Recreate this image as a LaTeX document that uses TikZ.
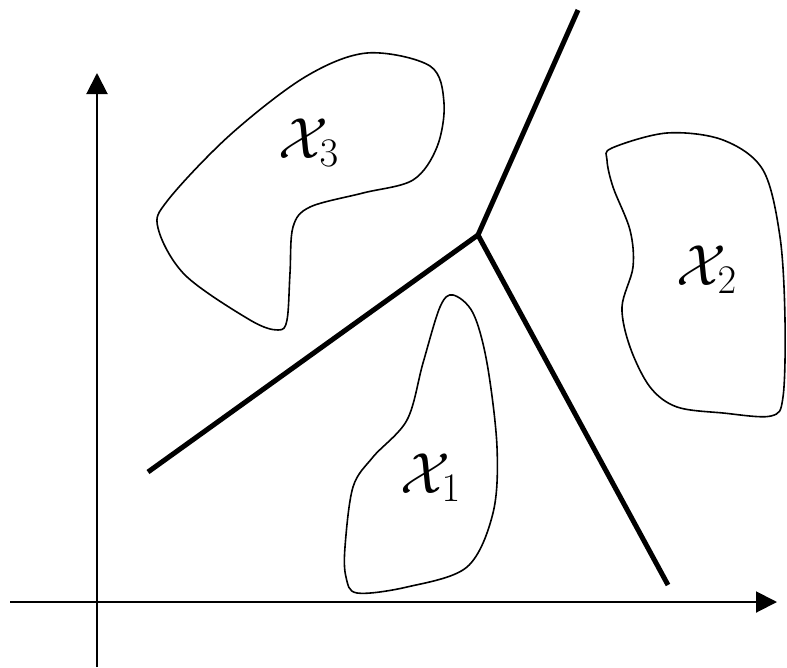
\RequirePackage{fix-cm}
\documentclass[tikz,border=0pt]{standalone}
\usepackage{tikz}
\usetikzlibrary{arrows.meta, positioning}

\begin{document}
\begin{tikzpicture}[
        x=1pt, y=-1pt,
        achse/.style={line width=2pt, -{Triangle[length=21pt, width=21pt]}},
        grenze/.style={line width=5pt},
        klasse/.style={line width=1.6pt, smooth cycle, tension=0.55},
        etikett/.style={inner sep=0pt, anchor=base west, font=\fontsize{58}{60}\selectfont}
    ]
        \useasboundingbox (0,0) rectangle (787,667);

        % Achsen
        \coordinate (ursprung) at (97,602);
        \coordinate (xanf) at (10,602);
        \coordinate (xend) at (777,602);
        \coordinate (yanf) at (97,667);
        \coordinate (yend) at (97,73);
        \draw[achse] (xanf) -- (xend);
        \draw[achse] (yanf) -- (yend);

        % Klassen
        \draw[klasse] plot coordinates {(367,53) (430,66) (444,103) (437,147) (413,180)
            (363,193) (310,207) (293,227) (290,273) (287,320) (278,330) (250,320)
            (185,275) (158,228) (168,200) (230,135) (305,77)};
        \draw[klasse] plot coordinates {(453,295) (473,313) (487,363) (497,447) (493,513)
            (467,567) (407,587) (357,593) (346,577) (345,547) (353,487) (373,457)
            (407,420) (423,363) (440,307)};
        \draw[klasse] plot coordinates {(612,148) (667,133) (723,140) (763,170) (780,237)
            (785,320) (783,397) (771,416) (723,413) (677,407) (650,387) (630,347)
            (622,307) (633,267) (630,230) (613,187) (607,160)};

        \node[etikett] (x3) at (278,158) {$\mathcal{X}_3$};
        \node[etikett] (x1) at (400,493) {$\mathcal{X}_1$};
        \node[etikett] (x2) at (676,285) {$\mathcal{X}_2$};

        % Trennlinien
        \coordinate (mitte) at (478,235);
        \coordinate (oben) at (578,10);
        \coordinate (links) at (148,472);
        \coordinate (rechts) at (668,585);
        \draw[grenze] (mitte) -- (oben);
        \draw[grenze] (mitte) -- (links);
        \draw[grenze] (mitte) -- (rechts);
\end{tikzpicture}
\end{document}
